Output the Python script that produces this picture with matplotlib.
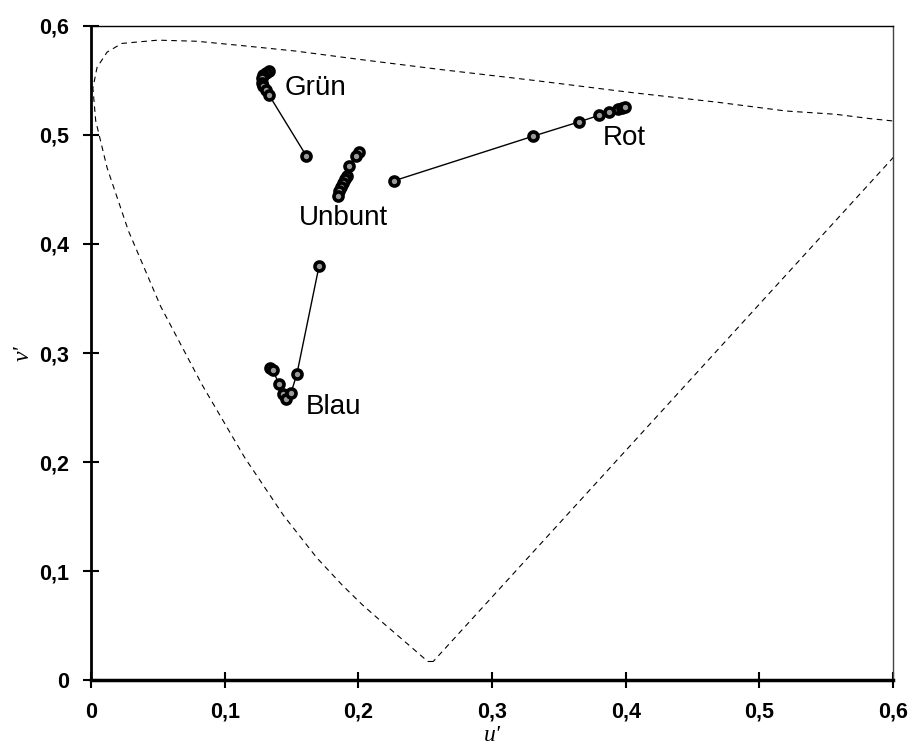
import matplotlib.pyplot as plt
from matplotlib.ticker import FuncFormatter

# spectral locus (u', v'), closed by the purple line
locus_u = [0.256, 0.252, 0.235, 0.216, 0.203, 0.188, 0.169, 0.144, 0.115, 0.083,
           0.052, 0.028, 0.012, 0.0035, 0.0014, 0.0045, 0.012, 0.023, 0.050, 0.079,
           0.113, 0.153, 0.203, 0.262, 0.332, 0.404, 0.469, 0.520, 0.557, 0.583,
           0.623, 0.256]
locus_v = [0.017, 0.017, 0.035, 0.055, 0.069, 0.087, 0.112, 0.151, 0.204, 0.271,
           0.343, 0.412, 0.470, 0.513, 0.543, 0.562, 0.576, 0.584, 0.587, 0.586,
           0.582, 0.577, 0.569, 0.560, 0.550, 0.539, 0.530, 0.522, 0.519, 0.515,
           0.510, 0.017]

gruen_u = [0.133, 0.131, 0.129, 0.128, 0.128, 0.129, 0.131, 0.133, 0.161]
gruen_v = [0.559, 0.557, 0.555, 0.552, 0.548, 0.545, 0.541, 0.537, 0.481]

unbunt_u = [0.2005, 0.198, 0.193, 0.1915, 0.190, 0.1885, 0.187, 0.1855, 0.185]
unbunt_v = [0.484, 0.481, 0.472, 0.462, 0.4596, 0.456, 0.452, 0.4486, 0.444]

rot_u = [0.2267, 0.331, 0.365, 0.380, 0.3875, 0.394, 0.397, 0.3995]
rot_v = [0.458, 0.499, 0.512, 0.518, 0.521, 0.524, 0.525, 0.526]

blau_u = [0.134, 0.136, 0.1406, 0.1436, 0.146, 0.1496, 0.154, 0.1706]
blau_v = [0.286, 0.2844, 0.2716, 0.262, 0.258, 0.2633, 0.2807, 0.3798]

labels = ['Grün', 'Unbunt', 'Rot', 'Blau']
label_u = [0.145, 0.1556, 0.383, 0.161]
label_v = [0.543, 0.424, 0.497, 0.2505]

fig = plt.figure(figsize=(9.13, 7.49), dpi=100)
ax = fig.add_axes([0.0997, 0.0921, 0.8784, 0.8732])

ax.plot(locus_u, locus_v, color='black', lw=0.8, dashes=(5, 4))

for u, v in [(gruen_u, gruen_v), (unbunt_u, unbunt_v), (rot_u, rot_v), (blau_u, blau_v)]:
    ax.plot(u, v, color='black', lw=1, marker='o', ms=6.5, mfc='#9a9a9a', mec='black', mew=2.6)

for txt, u, v in zip(labels, label_u, label_v):
    ax.text(u, v, txt, fontsize=20, family='Liberation Sans', ha='left', va='center')

ax.set_xlim(0, 0.6)
ax.set_ylim(0, 0.6)
ticks = [0, 0.1, 0.2, 0.3, 0.4, 0.5, 0.6]
ax.set_xticks(ticks)
ax.set_yticks(ticks)
fmt = FuncFormatter(lambda x, pos: '0' if x == 0 else f'{x:.1f}'.replace('.', ','))
ax.xaxis.set_major_formatter(fmt)
ax.yaxis.set_major_formatter(fmt)
ax.tick_params(direction='inout', length=11, width=1.5, labelsize=15.5, pad=10)
for lab in ax.get_xticklabels() + ax.get_yticklabels():
    lab.set_family('Liberation Sans')
    lab.set_fontweight('bold')

ax.spines['left'].set_linewidth(2)
ax.spines['bottom'].set_linewidth(2.5)
ax.spines['top'].set_linewidth(1)
ax.spines['right'].set_linewidth(1)
ax.spines['right'].set_color('#444444')

ax.set_xlabel("u'", fontsize=17, family='Liberation Serif', style='italic', labelpad=2)
ax.set_ylabel("v'", fontsize=17, family='Liberation Serif', style='italic', labelpad=4)

fig.savefig('out.png', dpi=100)
